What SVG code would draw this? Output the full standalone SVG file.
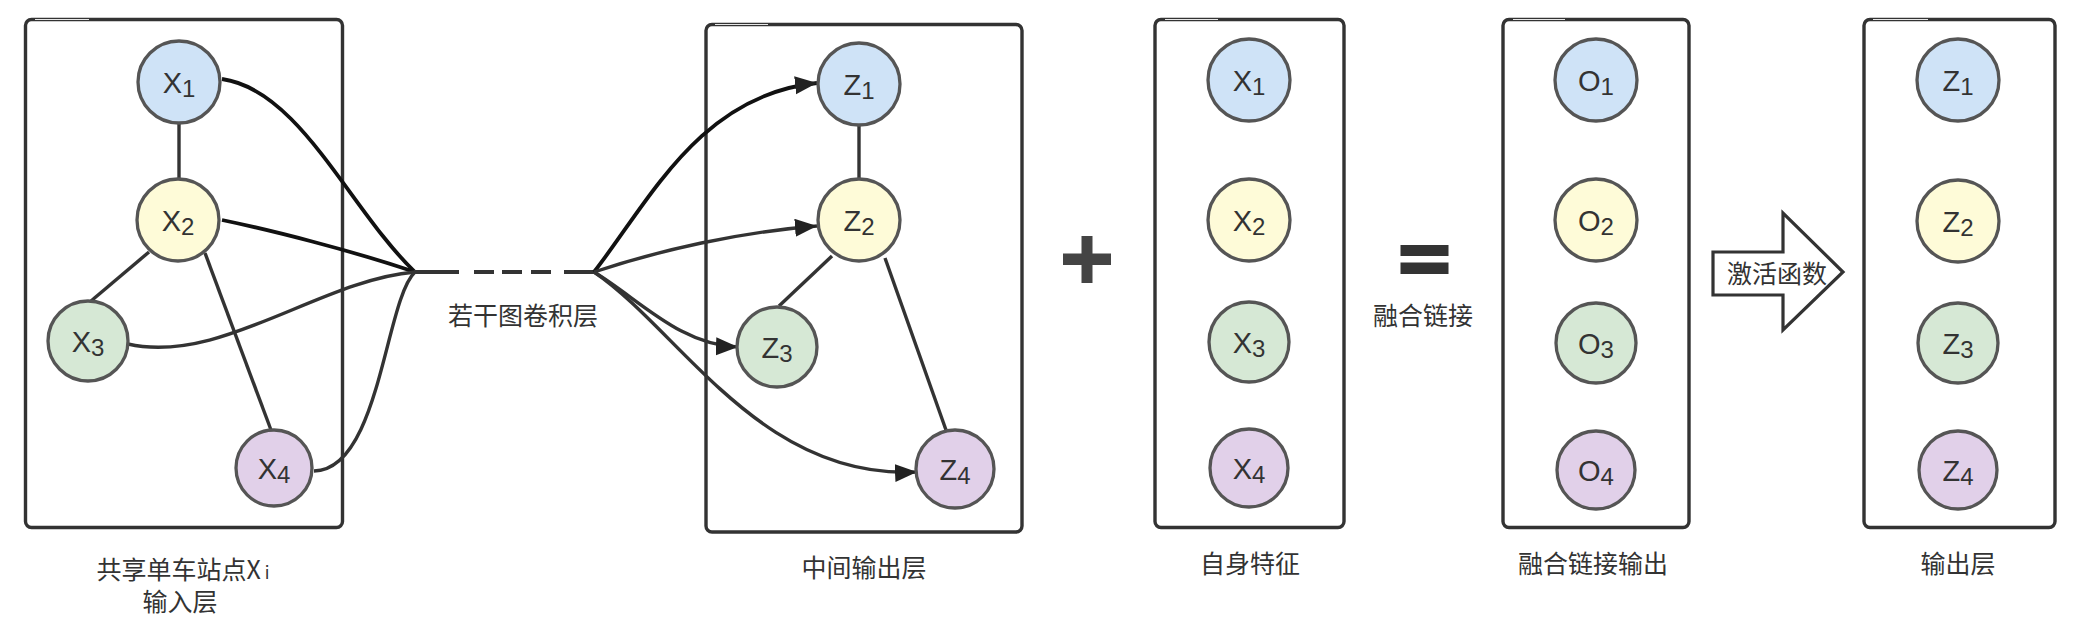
<svg xmlns="http://www.w3.org/2000/svg" width="2082" height="628" viewBox="0 0 2082 628">
<style>
.box{fill:none;stroke:#333;stroke-width:3.4}
.hl{stroke:#e8e8e8;stroke-width:1}
.n{stroke:#555;stroke-width:3.3}
.b{fill:#cfe3f7}.y{fill:#fefbd8}.g{fill:#d6e8d5}.p{fill:#e1d0e9}
.t{font-family:"Liberation Sans",Arial,sans-serif;font-size:29px;fill:#333;text-anchor:middle}
.s{font-size:24px}
.l{font-family:"Noto Sans CJK SC","Noto Sans CJK JP",sans-serif;font-size:25px;fill:#333;text-anchor:middle}
.e{fill:none;stroke:#333;stroke-width:3.4}
.k{fill:none;stroke:#111;stroke-width:3.8}
</style>
<defs>
<marker id="ah" markerUnits="userSpaceOnUse" markerWidth="24" markerHeight="20" viewBox="0 0 24 20" refX="22" refY="9" orient="auto">
<path d="M0,0 L22,9 L0,18 Z" fill="#222"/>
</marker>
</defs>

<g id="frames">
<rect class="box" x="25.5" y="19.5" width="317" height="508" rx="6"/>
<line class="hl" x1="35" y1="19.5" x2="89" y2="19.5"/>
<rect class="box" x="706" y="24.5" width="316" height="507.5" rx="6"/>
<line class="hl" x1="715" y1="24.5" x2="768" y2="24.5"/>
<rect class="box" x="1155" y="19.5" width="189" height="508" rx="6"/>
<line class="hl" x1="1165" y1="19.5" x2="1218" y2="19.5"/>
<rect class="box" x="1503" y="19.5" width="186" height="508" rx="6"/>
<line class="hl" x1="1513" y1="19.5" x2="1565" y2="19.5"/>
<rect class="box" x="1864" y="19.5" width="191" height="508" rx="6"/>
<line class="hl" x1="1873" y1="19.5" x2="1928" y2="19.5"/>
</g>

<g id="connectors">
<line class="e" x1="179" y1="123" x2="179" y2="179"/>
<line class="e" x1="149" y1="252" x2="91" y2="301"/>
<line class="e" x1="205" y1="253" x2="271" y2="430"/>
<path class="k" d="M222,79 C300,90 350,210 415,272"/>
<path class="k" d="M222,220 C270,230 350,250 415,272"/>
<path class="e" d="M128,344 C220,365 320,280 415,272"/>
<path class="e" d="M314,471 C380,470 385,300 415,272"/>
<g stroke="#333" stroke-width="4">
<line x1="414" y1="272" x2="459" y2="272"/>
<line x1="474" y1="272" x2="494" y2="272"/>
<line x1="502" y1="272" x2="522" y2="272"/>
<line x1="531" y1="272" x2="551" y2="272"/>
<line x1="564" y1="272" x2="595" y2="272"/>
</g>
<path class="k" d="M594,272 C650,200 700,95 817,83" marker-end="url(#ah)"/>
<path class="e" d="M594,272 C660,250 740,232 817,226" marker-end="url(#ah)"/>
<path class="e" d="M594,272 C640,300 680,345 738,347" marker-end="url(#ah)"/>
<path class="e" d="M594,272 C680,330 760,480 917,472" marker-end="url(#ah)"/>
<line class="e" x1="859" y1="125" x2="859" y2="179"/>
<line class="e" x1="832" y1="256" x2="779" y2="306"/>
<line class="e" x1="885" y1="258" x2="946" y2="430"/>
</g>

<g id="in-x1"><circle class="n b" cx="179" cy="82" r="41"/><text class="t" x="179" y="93">X<tspan class="s" dy="4">1</tspan></text></g>
<g id="in-x2"><circle class="n y" cx="178" cy="220" r="41"/><text class="t" x="178" y="231">X<tspan class="s" dy="4">2</tspan></text></g>
<g id="in-x3"><circle class="n g" cx="88" cy="341" r="40"/><text class="t" x="88" y="352">X<tspan class="s" dy="4">3</tspan></text></g>
<g id="in-x4"><circle class="n p" cx="274" cy="468" r="38"/><text class="t" x="274" y="479">X<tspan class="s" dy="4">4</tspan></text></g>

<g id="mid-z1"><circle class="n b" cx="859" cy="84" r="41"/><text class="t" x="859" y="95">Z<tspan class="s" dy="4">1</tspan></text></g>
<g id="mid-z2"><circle class="n y" cx="859" cy="220" r="41"/><text class="t" x="859" y="231">Z<tspan class="s" dy="4">2</tspan></text></g>
<g id="mid-z3"><circle class="n g" cx="777" cy="347" r="40"/><text class="t" x="777" y="358">Z<tspan class="s" dy="4">3</tspan></text></g>
<g id="mid-z4"><circle class="n p" cx="955" cy="469" r="39"/><text class="t" x="955" y="480">Z<tspan class="s" dy="4">4</tspan></text></g>

<g id="self-x1"><circle class="n b" cx="1249" cy="80" r="41"/><text class="t" x="1249" y="91">X<tspan class="s" dy="4">1</tspan></text></g>
<g id="self-x2"><circle class="n y" cx="1249" cy="220" r="41"/><text class="t" x="1249" y="231">X<tspan class="s" dy="4">2</tspan></text></g>
<g id="self-x3"><circle class="n g" cx="1249" cy="342" r="40"/><text class="t" x="1249" y="353">X<tspan class="s" dy="4">3</tspan></text></g>
<g id="self-x4"><circle class="n p" cx="1249" cy="468" r="39"/><text class="t" x="1249" y="479">X<tspan class="s" dy="4">4</tspan></text></g>

<g id="fus-o1"><circle class="n b" cx="1596" cy="80" r="41"/><text class="t" x="1596" y="91">O<tspan class="s" dy="4">1</tspan></text></g>
<g id="fus-o2"><circle class="n y" cx="1596" cy="220" r="41"/><text class="t" x="1596" y="231">O<tspan class="s" dy="4">2</tspan></text></g>
<g id="fus-o3"><circle class="n g" cx="1596" cy="343" r="40"/><text class="t" x="1596" y="354">O<tspan class="s" dy="4">3</tspan></text></g>
<g id="fus-o4"><circle class="n p" cx="1596" cy="470" r="39"/><text class="t" x="1596" y="481">O<tspan class="s" dy="4">4</tspan></text></g>

<g id="out-z1"><circle class="n b" cx="1958" cy="80" r="41"/><text class="t" x="1958" y="91">Z<tspan class="s" dy="4">1</tspan></text></g>
<g id="out-z2"><circle class="n y" cx="1958" cy="221" r="41"/><text class="t" x="1958" y="232">Z<tspan class="s" dy="4">2</tspan></text></g>
<g id="out-z3"><circle class="n g" cx="1958" cy="343" r="40"/><text class="t" x="1958" y="354">Z<tspan class="s" dy="4">3</tspan></text></g>
<g id="out-z4"><circle class="n p" cx="1958" cy="470" r="39"/><text class="t" x="1958" y="481">Z<tspan class="s" dy="4">4</tspan></text></g>

<g id="plus" fill="#444">
<rect x="1081.5" y="236" width="11" height="47"/>
<rect x="1063" y="253.5" width="48" height="11.5"/>
</g>
<g id="equals" fill="#333">
<rect x="1400.5" y="245" width="48" height="11"/>
<rect x="1400.5" y="262.5" width="48" height="11.5"/>
</g>
<g id="activation">
<polygon points="1713,252 1783,252 1783,213 1843,272 1783,330 1783,295 1713,295" fill="#fff" stroke="#333" stroke-width="3.2" stroke-linejoin="miter"/>
<text class="l" x="1777" y="283">激活函数</text>
</g>

<g id="labels">
<text class="l" x="183" y="579">共享单车站点X<tspan font-size="17" dx="4">i</tspan></text>
<text class="l" x="180" y="611">输入层</text>
<text class="l" x="523" y="325">若干图卷积层</text>
<text class="l" x="864" y="577">中间输出层</text>
<text class="l" x="1250" y="573">自身特征</text>
<text class="l" x="1423" y="325">融合链接</text>
<text class="l" x="1593" y="573">融合链接输出</text>
<text class="l" x="1958" y="573">输出层</text>
</g>
</svg>
